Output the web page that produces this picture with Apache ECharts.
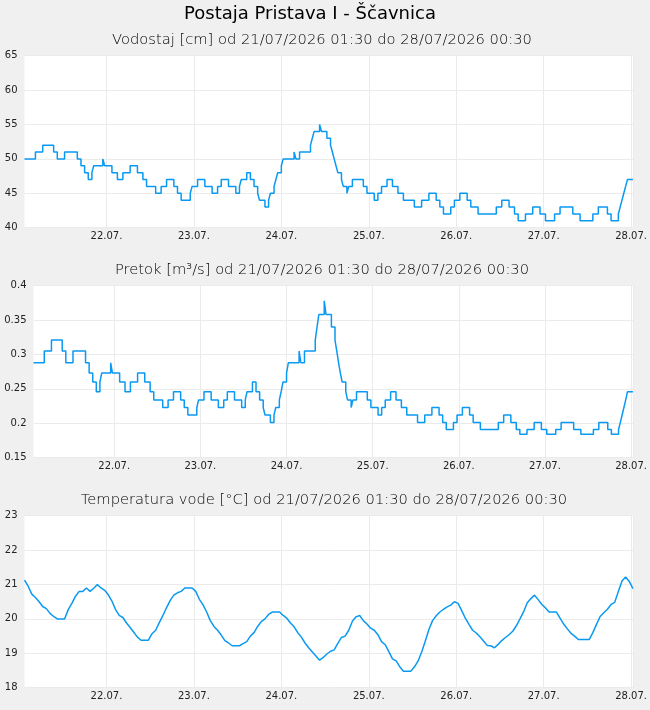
<!DOCTYPE html>
<html>
<head>
<meta charset="utf-8">
<script src="https://cdn.jsdelivr.net/npm/echarts@6/dist/echarts.min.js"></script>
<style>
html,body{margin:0;padding:0;background:#f0f0f0;}
#c{width:650px;height:710px;}
</style>
</head>
<body>
<div id="c"></div>
<script>
// Time is expressed in hours after 21.07.2026 00:00
const mainTitle = 'Postaja Pristava I - Ščavnica';
const subTitles = [
  'Vodostaj [cm] od 21/07/2026 01:30 do 28/07/2026 00:30',
  'Pretok [m³/s] od 21/07/2026 01:30 do 28/07/2026 00:30',
  'Temperatura vode [°C] od 21/07/2026 01:30 do 28/07/2026 00:30'
];
const timeStart = 1.5;   // 21/07 01:30
const timeEnd = 168.5;   // 28/07 00:30
const dayTicks = [24, 48, 72, 96, 120, 144, 168];
const dayLabels = ['22.07.', '23.07.', '24.07.', '25.07.', '26.07.', '27.07.', '28.07.'];

// Water level [cm]: times where the value changes, and the new value
const levelTimes = [1.5,4.5,6.5,9.5,10.5,12.5,16,17,18,19,
  20,20.5,23,23.5,25.5,27,28.5,30.5,32.5,34,
  35,37.5,39,40.5,42.5,43.5,44.5,47,47.5,49,
  51,53,54.5,55.5,57.5,59.5,60.5,61,62.5,63.5,
  64.5,65.5,66,67.5,68.5,69,70,70.5,71,72,
  72.5,75.5,76,77,80,80.5,81,82.5,83,84.5,
  85.5,86,86.5,87,87.5,88.5,89,90,90.5,91.5,
  94.5,95.5,97.5,98.5,99.5,101,102.5,104,105.5,108.5,
  110.5,112.5,114.5,115.5,116.5,118.5,119.5,121,123,124,
  126,131,132.5,134.5,136,137,139,141,143,144.5,
  147,148.5,152,154,157.5,159,161.5,162.5,164.5,165,
  165.5,166,166.5,167,168.5];
const levelValues = [50,51,52,51,50,51,50,49,48,47,
  48,49,50,49,48,47,48,49,48,47,
  46,45,46,47,46,45,44,45,46,47,
  46,45,46,47,46,45,46,47,48,47,
  46,45,44,43,44,45,46,47,48,49,
  50,51,50,51,52,53,54,55,54,53,
  52,51,50,49,48,47,46,45,46,47,
  46,45,44,45,46,47,46,45,44,43,
  44,45,44,43,42,43,44,45,44,43,
  42,43,44,43,42,41,42,43,42,41,
  42,43,42,41,42,43,42,41,42,43,
  44,45,46,47,47];
// Discharge [m³/s] at the same change times
const flowValues = [0.288,0.305,0.321,0.305,0.288,0.305,0.288,0.273,0.26,0.246,
  0.26,0.273,0.288,0.273,0.26,0.246,0.26,0.273,0.26,0.246,
  0.234,0.223,0.234,0.246,0.234,0.223,0.212,0.223,0.234,0.246,
  0.234,0.223,0.234,0.246,0.234,0.223,0.234,0.246,0.26,0.246,
  0.234,0.223,0.212,0.201,0.212,0.223,0.234,0.246,0.26,0.273,
  0.288,0.305,0.288,0.305,0.321,0.34,0.358,0.378,0.358,0.34,
  0.321,0.305,0.288,0.273,0.26,0.246,0.234,0.223,0.234,0.246,
  0.234,0.223,0.212,0.223,0.234,0.246,0.234,0.223,0.212,0.201,
  0.212,0.223,0.212,0.201,0.191,0.201,0.212,0.223,0.212,0.201,
  0.191,0.201,0.212,0.201,0.191,0.184,0.191,0.201,0.191,0.184,
  0.191,0.201,0.191,0.184,0.191,0.201,0.191,0.184,0.191,0.201,
  0.212,0.223,0.234,0.246,0.246];
// Water temperature [°C], hourly from 01:30 on 21/07
const tempStep = 1;
const tempValues = [21.13,20.95,20.72,20.62,20.5,20.36,20.3,20.16,20.07,20.0,
  20.0,20.0,20.27,20.45,20.66,20.8,20.8,20.9,20.8,20.89,
  21.0,20.9,20.83,20.7,20.52,20.27,20.1,20.04,19.88,19.75,
  19.61,19.47,19.38,19.38,19.38,19.57,19.67,19.89,20.1,20.33,
  20.54,20.69,20.76,20.8,20.9,20.9,20.9,20.8,20.57,20.41,
  20.2,19.95,19.78,19.67,19.53,19.37,19.3,19.22,19.22,19.22,
  19.28,19.34,19.5,19.6,19.78,19.92,20.0,20.13,20.2,20.2,
  20.2,20.1,20.02,19.88,19.77,19.6,19.47,19.3,19.16,19.04,
  18.92,18.8,18.88,18.98,19.06,19.1,19.29,19.46,19.5,19.67,
  19.93,20.06,20.1,19.95,19.85,19.73,19.67,19.54,19.34,19.25,
  19.05,18.84,18.78,18.61,18.48,18.48,18.48,18.6,18.77,19.03,
  19.35,19.69,19.95,20.09,20.2,20.28,20.35,20.4,20.5,20.45,
  20.24,20.02,19.84,19.67,19.59,19.48,19.36,19.23,19.22,19.16,
  19.26,19.37,19.46,19.54,19.64,19.8,20.0,20.21,20.47,20.59,
  20.69,20.56,20.42,20.32,20.2,20.2,20.2,20.02,19.85,19.71,
  19.58,19.5,19.4,19.4,19.4,19.4,19.6,19.84,20.07,20.18,
  20.28,20.42,20.48,20.8,21.1,21.22,21.09,20.88];

const yRanges = [
  {min: 40, max: 65, interval: 5},
  {min: 0.15, max: 0.4, interval: 0.05},
  {min: 18, max: 23, interval: 1}
];

const FONT = '"DejaVu Sans", sans-serif';
const lineColor = '#0a99f2';
const gridColor = '#ebebeb';

const grids = [
  {left: 24.5, right: 7.5, top: 55.7, height: 172, show: true, backgroundColor: '#fff', borderWidth: 0},
  {left: 33.5, right: 7.5, top: 285.7, height: 172, show: true, backgroundColor: '#fff', borderWidth: 0},
  {left: 24.5, right: 7.5, top: 515.7, height: 172, show: true, backgroundColor: '#fff', borderWidth: 0}
];

const xAxes = grids.map((g, i) => ({
  type: 'value', gridIndex: i, min: timeStart, max: timeEnd,
  axisLine: {show: false},
  axisTick: {show: false, customValues: dayTicks.concat([timeEnd])},
  splitLine: {show: true, lineStyle: {color: gridColor, width: 1}},
  axisLabel: {
    customValues: dayTicks,
    formatter: v => { const k = dayTicks.indexOf(v); return k >= 0 ? dayLabels[k] : ''; },
    fontFamily: FONT, fontSize: 10, color: '#222', margin: 4,
    alignMaxLabel: 'center', alignMinLabel: 'center', hideOverlap: false
  }
}));

const yAxes = yRanges.map((r, i) => ({
  type: 'value', gridIndex: i, min: r.min, max: r.max, interval: r.interval,
  axisLine: {show: false}, axisTick: {show: false},
  splitLine: {show: true, lineStyle: {color: gridColor, width: 1}},
  axisLabel: {fontFamily: FONT, fontSize: 10, color: '#222', margin: 7}
}));

const lineStyle = {color: lineColor, width: 1.5};

const series = [
  {type: 'line', xAxisIndex: 0, yAxisIndex: 0, step: 'end', showSymbol: false, silent: true,
   lineStyle, data: levelTimes.map((t, k) => [t, levelValues[k]])},
  {type: 'line', xAxisIndex: 1, yAxisIndex: 1, step: 'end', showSymbol: false, silent: true,
   lineStyle, data: levelTimes.map((t, k) => [t, flowValues[k]])},
  {type: 'line', xAxisIndex: 2, yAxisIndex: 2, showSymbol: false, silent: true,
   lineStyle, data: tempValues.map((v, k) => [timeStart + k * tempStep, v])}
];

const textEl = (txt, x, y, font, fill) => ({
  type: 'text', x: x, y: y, silent: true,
  style: {text: txt, font: font, fill: fill, textAlign: 'center', textVerticalAlign: 'middle', align: 'center', verticalAlign: 'middle'}
});

const chart = echarts.init(document.getElementById('c'), null, {renderer: 'canvas'});
chart.setOption({
  backgroundColor: '#f0f0f0',
  animation: false,
  grid: grids,
  xAxis: xAxes,
  yAxis: yAxes,
  series: series,
  graphic: [
    textEl(mainTitle, 310, 14, '18px "DejaVu Sans"', '#000'),
    textEl(subTitles[0], 322, 40, '200 14.7px "DejaVu Sans"', '#000'),
    textEl(subTitles[1], 322, 270, '200 14.7px "DejaVu Sans"', '#000'),
    textEl(subTitles[2], 324, 500, '200 14.7px "DejaVu Sans"', '#000')
  ]
});
</script>
</body>
</html>
